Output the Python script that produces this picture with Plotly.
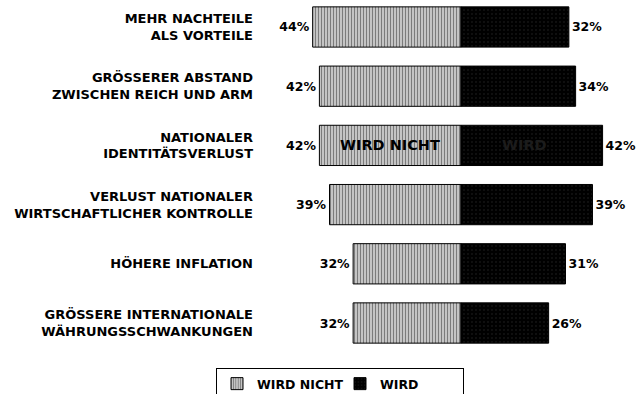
import plotly.graph_objects as go

# Survey items, top to bottom
categories = [
    "MEHR NACHTEILE<br>ALS VORTEILE",
    "GRÖSSERER ABSTAND<br>ZWISCHEN REICH UND ARM",
    "NATIONALER<br>IDENTITÄTSVERLUST",
    "VERLUST NATIONALER<br>WIRTSCHAFTLICHER KONTROLLE",
    "HÖHERE INFLATION",
    "GRÖSSERE INTERNATIONALE<br>WÄHRUNGSSCHWANKUNGEN",
]
wird_nicht = [44, 42, 42, 39, 32, 32]
wird = [32, 34, 42, 39, 31, 26]

positions = list(range(len(categories)))
FONT = "DejaVu Sans"

fig = go.Figure()

# "WIRD NICHT" extends left of the centre line
fig.add_trace(go.Bar(
    name="WIRD NICHT",
    y=positions,
    x=[-v for v in wird_nicht],
    orientation="h",
    width=0.68,
    text=[f"{v}%" for v in wird_nicht],
    textposition="outside",
    textfont=dict(family=FONT, size=12.5, color="black", weight="bold"),
    marker=dict(
        color="white",
        line=dict(color="black", width=1),
        pattern=dict(shape="|", fgcolor="#1a1a1a", bgcolor="#dcdcdc", size=3, solidity=0.5),
    ),
    cliponaxis=False,
))

# "WIRD" extends right of the centre line
fig.add_trace(go.Bar(
    name="WIRD",
    y=positions,
    x=wird,
    orientation="h",
    width=0.68,
    text=[f"{v}%" for v in wird],
    textposition="outside",
    textfont=dict(family=FONT, size=12.5, color="black", weight="bold"),
    marker=dict(
        color="black",
        line=dict(color="black", width=1),
        pattern=dict(shape=".", fgcolor="#4a4a4a", bgcolor="black", size=4, solidity=0.1),
    ),
    cliponaxis=False,
))

# In-bar series captions on the third row
fig.add_annotation(x=-wird_nicht[2] / 2, y=positions[2], text="WIRD NICHT",
                   showarrow=False, font=dict(family=FONT, size=14.5, color="black", weight="bold"))
fig.add_annotation(x=wird[2] * 0.45, y=positions[2], text="WIRD",
                   showarrow=False, font=dict(family=FONT, size=14.5, color="#1c1c1c", weight="bold"))

fig.update_layout(
    barmode="overlay",
    width=640,
    height=394,
    margin=dict(l=254, r=0, t=0, b=34),
    paper_bgcolor="white",
    plot_bgcolor="white",
    showlegend=True,
    legend=dict(
        orientation="h",
        xref="container", yref="container",
        x=340 / 640, xanchor="center",
        y=(394 - 368) / 394, yanchor="top",
        bordercolor="black", borderwidth=1,
        font=dict(family=FONT, size=12.5, color="black", weight="bold"),
        itemwidth=30,
        entrywidth=78,
        tracegroupgap=0,
    ),
    xaxis=dict(range=[-61.4, 53.1], visible=False, fixedrange=True),
    yaxis=dict(
        range=[5.625, -0.456],
        tickvals=positions,
        ticktext=categories,
        showgrid=False,
        zeroline=False,
        showline=False,
        ticks="",
        tickfont=dict(family=FONT, size=13, color="black", weight="bold"),
    ),
)

fig.write_html("out.html")
